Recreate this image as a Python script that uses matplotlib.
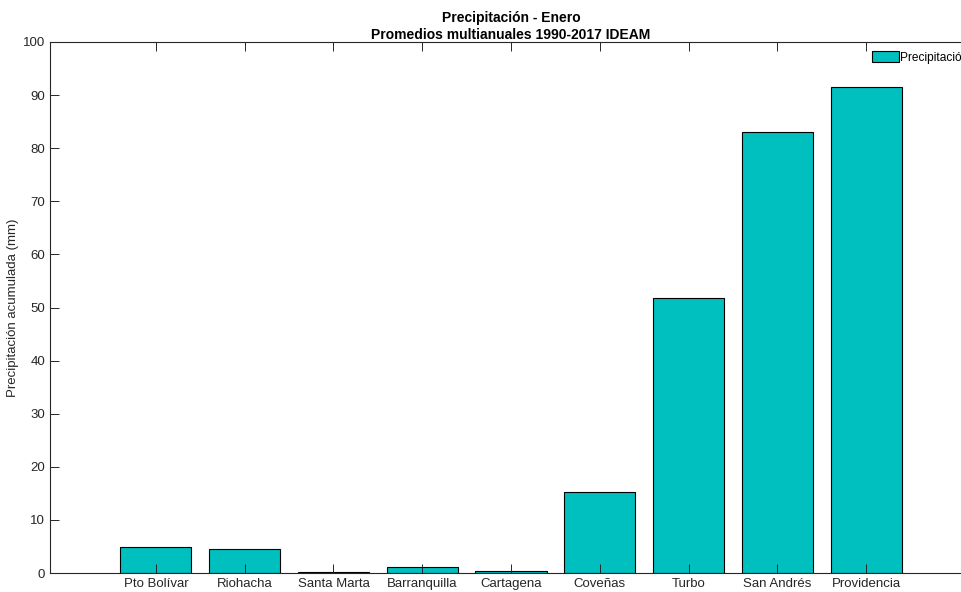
import numpy as np
import matplotlib
matplotlib.use('Agg')
import matplotlib.pyplot as plt

plt.rcParams['font.family'] = ['Liberation Sans', 'DejaVu Sans']

stations = ['Pto Bolívar', 'Riohacha', 'Santa Marta', 'Barranquilla', 'Cartagena',
            'Coveñas', 'Turbo', 'San Andrés', 'Providencia']
precip = [4.9, 4.5, 0.1, 1.2, 0.4, 15.2, 51.7, 83.0, 91.6]
yticks = list(range(0, 101, 10))

AX_COL = '#262626'

fig = plt.figure(figsize=(9.61, 5.92), dpi=100)
ax = fig.add_axes([50 / 961, 1 - 573 / 592, 922 / 961, 531 / 592])

x = np.arange(len(stations))
ax.bar(x, precip, width=0.8, color='#00BFBF', edgecolor='black', lw=0.8,
       label='Precipitación', zorder=1)

ax.set_xlim(-1.194, len(stations) - 1 + 1.194)
ax.set_ylim(0, 100)
ax.set_xticks(x)
ax.set_xticklabels(stations, fontsize=9.5, color=AX_COL)
ax.set_yticks(yticks)
ax.tick_params(axis='y', labelsize=9.5, colors=AX_COL)
ax.tick_params(direction='in', length=6.5, width=0.7, top=True, right=True,
               color=AX_COL, zorder=5)
for sp in ax.spines.values():
    sp.set_color(AX_COL)
    sp.set_linewidth(0.8)
ax.set_axisbelow(False)

ax.set_ylabel('Precipitación acumulada (mm)', fontsize=9.5, color=AX_COL, labelpad=3)
ax.set_title('Precipitación - Enero\nPromedios multianuales 1990-2017 IDEAM',
             fontsize=10, fontweight='bold', color='black', pad=2, linespacing=1.3)

fig.legend(loc='upper left', bbox_to_anchor=(870 / 961, 1 - 49 / 592),
           frameon=False, fontsize=8.6, handlelength=2.2, handleheight=1.0,
           handletextpad=0.15, borderpad=0.2, borderaxespad=0)

fig.savefig('out.png', dpi=100, facecolor='white')
